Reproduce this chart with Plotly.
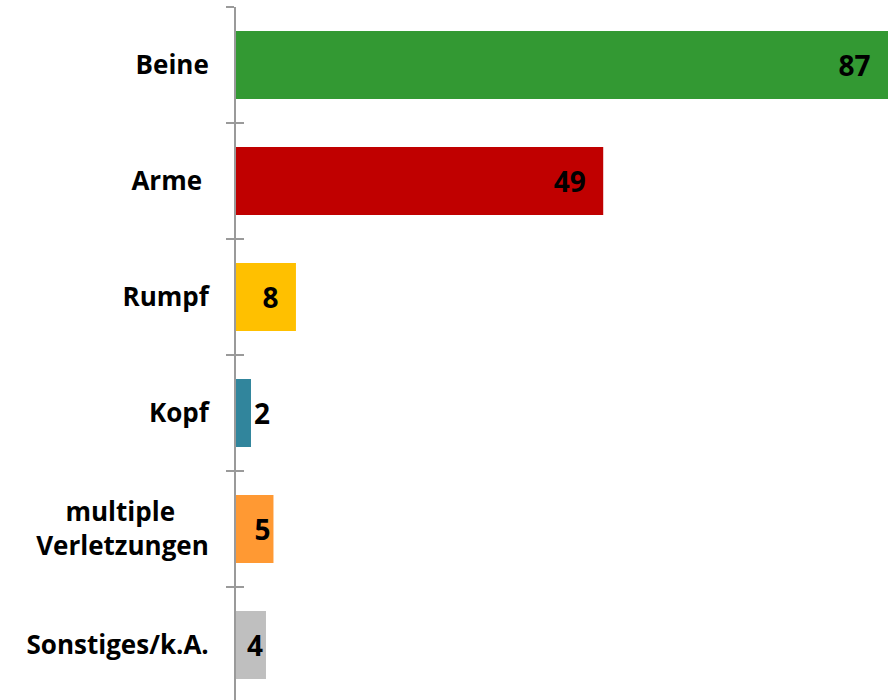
import plotly.graph_objects as go

categories = ["Beine", "Arme\u00a0", "Rumpf", "Kopf",
              "multiple\u00a0\u00a0\u00a0\u00a0\u00a0<br>Verletzungen", "Sonstiges/k.A."]
values = [87, 49, 8, 2, 5, 4]
colors = ["#339933", "#C00000", "#FFC000", "#31859C", "#FF9933", "#BFBFBF"]
label_templates = ["%{x}\u00a0\u00a0", "%{x}\u00a0\u00a0", "%{x}\u00a0\u00a0", "%{x}", "%{x}", "%{x}"]

FONT = "Open Sans"
AXIS_COLOR = "#9A9A9A"

fig = go.Figure()
fig.add_trace(go.Bar(
    x=values, y=categories, orientation="h",
    marker=dict(color=colors, line=dict(width=0)),
    texttemplate=label_templates,
    textposition="auto",
    insidetextanchor="end",
    textfont=dict(family=FONT, size=28, color="black", weight="bold"),
    insidetextfont=dict(family=FONT, size=28, color="black", weight="bold"),
    outsidetextfont=dict(family=FONT, size=28, color="black", weight="bold"),
    cliponaxis=False,
    hoverinfo="skip",
))
# invisible trace on an overlaying axis to draw the inner half of the crossing ticks
fig.add_trace(go.Scatter(
    x=values, y=categories, yaxis="y2", mode="markers",
    marker=dict(opacity=0), showlegend=False, hoverinfo="skip",
))

plot_h = 700 - 7
band = 116
yrange = [-0.5 + plot_h / band, -0.5]

fig.update_layout(
    width=888, height=700,
    margin=dict(l=236, r=0, t=7, b=0, pad=0),
    plot_bgcolor="white", paper_bgcolor="white",
    showlegend=False,
    bargap=0.414,
    font=dict(family=FONT, color="black"),
    xaxis=dict(range=[0, 87], visible=False, showgrid=False, zeroline=False),
    yaxis=dict(
        type="category", categoryorder="array", categoryarray=categories,
        range=yrange,
        showline=True, linecolor=AXIS_COLOR, linewidth=2,
        ticks="outside", ticklen=8, tickwidth=2, tickcolor=AXIS_COLOR,
        tickson="boundaries",
        ticklabelstandoff=20,
        tickfont=dict(family=FONT, size=26, color="black", weight="bold"),
        showgrid=False, zeroline=False,
    ),
    yaxis2=dict(
        type="category", categoryorder="array", categoryarray=categories,
        overlaying="y", side="left", range=yrange,
        showline=False,
        ticks="inside", ticklen=8, tickwidth=2, tickcolor=AXIS_COLOR,
        tickson="boundaries",
        showticklabels=False, showgrid=False, zeroline=False,
    ),
)

fig.write_html(
    "out.html",
    config={"displayModeBar": False},
    post_script="document.body.style.margin='0';document.body.style.overflow='hidden';",
)
